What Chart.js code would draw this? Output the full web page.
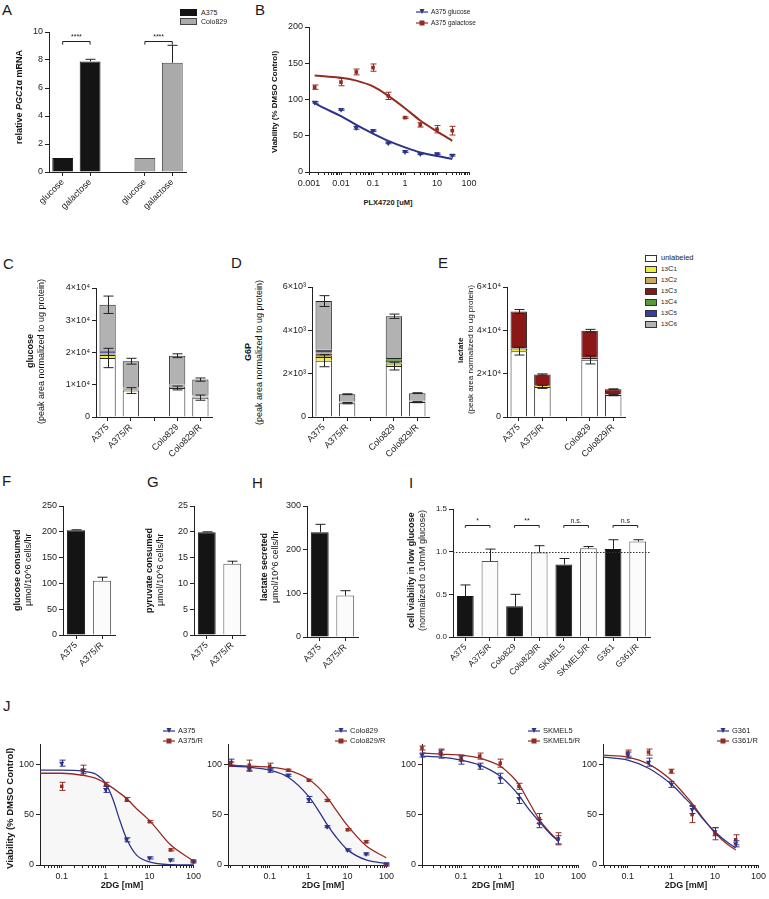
<!DOCTYPE html>
<html>
<head>
<meta charset="utf-8">
<script src="https://cdn.jsdelivr.net/npm/chart.js@4.4.1/dist/chart.umd.min.js"></script>
<style>
html, body { margin: 0; padding: 0; background: #fff; }
#fig { position: relative; width: 769px; height: 899px; overflow: hidden; font-family: "Liberation Sans", Arial, sans-serif; color: #1a1a1a; }
#fig canvas { position: absolute; }
.lbl { position: absolute; font-size: 15px; line-height: 15px; }
.yt { position: absolute; writing-mode: vertical-rl; transform: rotate(180deg); white-space: nowrap; text-align: center; color: #111; }
.xt { position: absolute; transform: translate(-50%, -50%); white-space: nowrap; font-weight: bold; }
.lg { position: absolute; white-space: nowrap; display: flex; align-items: center; line-height: 1; color: #222; }
.sw { display: inline-block; box-sizing: border-box; border: 1px solid #333; margin-right: 4px; }
</style>
</head>
<body>
<div id="fig"></div>
<script>
Chart.defaults.font.family = '"Liberation Sans", Arial, sans-serif';
Chart.defaults.font.size = 9;
Chart.defaults.color = '#222';

const AXIS = '#222';
const BLUE = '#2c3388';
const RED = '#952c23';
const BLACK = '#141414';
const WHITE = '#fbfbfb';
const ISO_COLORS = ['#ffffff', '#eeee3a', '#c8a862', '#8c1717', '#5a9a36', '#3a3c9c', '#b2b2b2'];

// ---- A: PGC1a mRNA
const aLabels = ['glucose', 'galactose', '', 'glucose', 'galactose'];
const aA375 = [1.0, 7.9, null, null, null];
const aColo829 = [null, null, null, 1.0, 7.8];
const aA375Err = [null, 0.15, null, null, null];
const aColo829Err = [null, null, null, null, 1.25];

// ---- B: PLX4720 dose response
const bConc = [0.0015, 0.01, 0.03, 0.1, 0.3, 1, 3, 10, 30];
const bGlucose = [96, 86, 61, 57, 40, 28, 25, 25, 23];
const bGlucoseErr = [1, 1, 2, 1, 1, 1, 1, 1, 1];
const bGalactose = [117, 124, 138, 144, 105, 75, 65, 59, 57];
const bGalactoseErr = [3, 5, 4, 5, 5, 1, 3, 5, 6];
const bFitConc = [0.0015, 0.003, 0.01, 0.03, 0.1, 0.3, 1, 3, 10, 30];
const bGlucoseFit = [95, 88, 77, 65, 53, 43, 34, 27, 22, 18];
const bGalactoseFit = [133, 132, 130, 126, 118, 105, 88, 71, 56, 43];

// ---- C/D/E: isotopologues
const isoLabels = ['A375', 'A375/R', '', 'Colo829', 'Colo829/R'];
const isoNames = ['unlabeled', '<sup>13</sup>C<sub>1</sub>', '<sup>13</sup>C<sub>2</sub>', '<sup>13</sup>C<sub>3</sub>',
  '<sup>13</sup>C<sub>4</sub>', '<sup>13</sup>C<sub>5</sub>', '<sup>13</sup>C<sub>6</sub>'];

const cUnlab = [18300, 8200, null, 9000, 6000];
const cC1 = [900, 300, null, 300, 250];
const cC2 = [150, 150, null, 150, 100];
const cC3 = [150, 150, null, 150, 100];
const cC4 = [200, 150, null, 150, 100];
const cC5 = [700, 200, null, 250, 150];
const cC6 = [14400, 8150, null, 9000, 4900];
const cUnlabErr = [3000, 900, null, 600, 800];
const cTopErr = [2700, 900, null, 600, 500];

const dUnlab = [2600, 640, null, 2350, 690];
const dC1 = [170, 20, null, 120, 20];
const dC2 = [80, 10, null, 60, 10];
const dC3 = [80, 10, null, 60, 10];
const dC4 = [60, 10, null, 50, 10];
const dC5 = [110, 10, null, 80, 10];
const dC6 = [2250, 350, null, 1930, 350];
const dUnlabErr = [280, 30, null, 180, 30];
const dTopErr = [250, 20, null, 100, 20];

const eUnlab = [30400, 13900, null, 26400, 10100];
const eC1 = [1200, 700, null, 800, 300];
const eC2 = [300, 200, null, 200, 100];
const eC3 = [16800, 4800, null, 12450, 2300];
const eC4 = [null, null, null, null, null];
const eC5 = [null, null, null, null, null];
const eC6 = [null, null, null, null, null];
const eUnlabErr = [1800, 700, null, 1900, 300];
const eTopErr = [900, 300, null, 600, 200];

// ---- F/G/H: consumption / secretion
const fghLabels = ['A375', 'A375/R'];
const fGlucose = [203, 105];
const fGlucoseErr = [1, 7];
const gPyruvate = [19.9, 13.8];
const gPyruvateErr = [0.1, 0.5];
const hLactate = [240, 95];
const hLactateErr = [18, 11];

// ---- I: low glucose viability
const iLabels = ['A375', 'A375/R', 'Colo829', 'Colo829/R', 'SKMEL5', 'SKMEL5/R', 'G361', 'G361/R'];
const iValues = [0.48, 0.89, 0.36, 0.99, 0.85, 1.04, 1.03, 1.12];
const iErr = [0.13, 0.14, 0.14, 0.08, 0.07, 0.02, 0.11, 0.02];
const iSigText = ['*', '**', 'n.s.', 'n.s'];

// ---- J: 2DG dose response
const j1Conc = [0.1, 0.3, 1, 3, 10, 30, 100];
const j1A375 = [101, 93, 75, 25, 7, 5, 3];
const j1A375Err = [3, 2, 3, 2, 1, 1, 1];
const j1A375R = [78, 94, 80, 65, 43, 15, 4];
const j1A375RErr = [4, 5, 2, 2, 1, 1, 1];
const j1FitConc = [0.032, 0.1, 0.3, 0.6, 1, 1.5, 2, 3, 5, 10, 30, 100];
const j1A375Fit = [94, 94, 93, 90, 81, 64, 47, 26, 10, 3, 0.3, 0];
const j1A375RFit = [91, 91, 89, 86, 81, 76, 72, 66, 56, 44, 20, 4];

const j2Conc = [0.01, 0.03, 0.1, 0.3, 1, 3, 10, 30, 100];
const j2Colo829 = [102, 95, 94, 89, 65, 38, 15, 11, 1];
const j2Colo829Err = [3, 2, 2, 1, 3, 1, 1, 1, 1];
const j2Colo829R = [100, 99, 98, 94, 84, 64, 35, 23, 0];
const j2Colo829RErr = [2, 5, 3, 1, 1, 1, 1, 1, 1];
const j2FitConc = [0.0085, 0.03, 0.1, 0.3, 1, 2, 3, 5, 10, 30, 100];
const j2Colo829Fit = [98, 97, 94, 87, 68, 51, 40, 28, 15, 5, 1.5];
const j2Colo829RFit = [99, 98, 97, 94, 85, 75, 67, 55, 39, 19, 7];

const j3Conc = [0.01, 0.03, 0.1, 0.3, 1, 3, 10, 30];
const j3Skmel5 = [109, 110, 104, 98, 86, 66, 41, 25];
const j3Skmel5Err = [2, 4, 4, 3, 5, 5, 4, 4];
const j3Skmel5R = [116, 112, 106, 108, 101, 78, 46, 26];
const j3Skmel5RErr = [2, 3, 3, 3, 4, 3, 5, 6];
const j3FitConc = [0.01, 0.03, 0.1, 0.3, 1, 2, 3, 5, 10, 20, 30];
const j3Skmel5Fit = [108, 107, 104, 99, 88, 77, 69, 57, 43, 30, 24];
const j3Skmel5RFit = [111, 110, 109, 106, 98, 88, 80, 65, 45, 31, 24];

const j4Conc = [0.1, 0.3, 1, 3, 10, 30];
const j4G361 = [109, 102, 80, 55, 33, 21];
const j4G361Err = [3, 4, 3, 4, 4, 3];
const j4G361R = [111, 112, 93, 50, 31, 25];
const j4G361RErr = [3, 3, 2, 8, 6, 5];
const j4FitConc = [0.027, 0.1, 0.3, 1, 2, 3, 5, 10, 20, 30];
const j4G361Fit = [107, 104, 96, 80, 67, 59, 47, 33, 22, 17];
const j4G361RFit = [109, 107, 100, 84, 70, 61, 48, 32, 20, 15];

// ---------------------------------------------------------------
const fig = document.getElementById('fig');

function addDiv(cls, css, html) {
    const d = document.createElement('div');
    d.className = cls;
    d.style.cssText = css;
    d.innerHTML = html;
    fig.appendChild(d);
    return d;
}

// error bars from dataset.err (magnitudes), drawn at each element's top
const errorBars = {
    id: 'errorBars',
    afterDatasetsDraw(chart) {
        const { ctx } = chart;
        const y = chart.scales.y;
        chart.data.datasets.forEach((ds, i) => {
            if (!ds.err) return;
            const meta = chart.getDatasetMeta(i);
            ctx.save();
            ctx.strokeStyle = ds.errColor || '#222';
            ctx.lineWidth = 1;
            meta.data.forEach((el, j) => {
                const e = ds.err[j];
                if (e == null || el.skip || ds.data[j] == null) return;
                const v = y.getValueForPixel(el.y);
                const top = y.getPixelForValue(v + e);
                const bot = ds.errMode === 'up' ? el.y : y.getPixelForValue(v - e);
                const cap = ds.errCap || 4;
                const px = Math.round(el.x) + 0.5;
                ctx.beginPath();
                ctx.moveTo(px, top);
                ctx.lineTo(px, bot);
                ctx.moveTo(px - cap, top);
                ctx.lineTo(px + cap, top);
                if (ds.errMode !== 'up') {
                    ctx.moveTo(px - cap, bot);
                    ctx.lineTo(px + cap, bot);
                }
                ctx.stroke();
            });
            ctx.restore();
        });
    },
};
Chart.register(errorBars);

function bracketPlugin(pairs, level, leg, texts, fontSize) {
    return {
        id: 'brackets',
        afterDatasetsDraw(chart) {
            const { ctx, scales: { x, y } } = chart;
            ctx.save();
            ctx.strokeStyle = '#222';
            ctx.fillStyle = '#222';
            ctx.lineWidth = 1;
            ctx.font = fontSize + 'px "Liberation Sans", Arial, sans-serif';
            ctx.textAlign = 'center';
            ctx.textBaseline = 'bottom';
            pairs.forEach(([a, b], k) => {
                const x1 = x.getPixelForValue(a), x2 = x.getPixelForValue(b);
                const yt = Math.round(y.getPixelForValue(level)) + 0.5;
                const yl = y.getPixelForValue(leg);
                ctx.beginPath();
                ctx.moveTo(x1, yl);
                ctx.lineTo(x1, yt);
                ctx.lineTo(x2, yt);
                ctx.lineTo(x2, yl);
                ctx.stroke();
                ctx.fillText(texts[k], (x1 + x2) / 2, yt - 1);
            });
            ctx.restore();
        },
    };
}

function refLinePlugin(value) {
    return {
        id: 'refLine',
        afterDatasetsDraw(chart) {
            const { ctx, chartArea, scales: { y } } = chart;
            const py = Math.round(y.getPixelForValue(value)) + 0.5;
            ctx.save();
            ctx.strokeStyle = '#333';
            ctx.lineWidth = 1;
            ctx.setLineDash([1.5, 1.5]);
            ctx.beginPath();
            ctx.moveTo(chartArea.left, py);
            ctx.lineTo(chartArea.right, py);
            ctx.stroke();
            ctx.restore();
        },
    };
}

function logTicks(min, max) {
    const out = [];
    for (let k = Math.floor(Math.log10(min)); k <= Math.ceil(Math.log10(max)); k++) {
        for (let m = 1; m < 10; m++) {
            const v = +(m * Math.pow(10, k)).toPrecision(6);
            if (v >= min * 0.999 && v <= max * 1.001) out.push({ value: v, major: m === 1 });
        }
    }
    return out;
}
const isPow10 = v => Math.abs(Math.log10(v) - Math.round(Math.log10(v))) < 1e-6;

function yLin(min, max, step, fmt, size, list) {
    const s = {
        type: 'linear', min, max,
        border: { color: AXIS },
        grid: { drawOnChartArea: false, tickLength: 4, tickColor: AXIS },
        ticks: { stepSize: step, padding: 2, font: { size: size || 9 }, callback: fmt || (v => v) },
    };
    if (list) s.afterBuildTicks = sc => { sc.ticks = list.map(v => ({ value: v })); };
    return s;
}

function xCat(hideIdx, size) {
    return {
        type: 'category', offset: true,
        border: { color: AXIS },
        grid: {
            drawOnChartArea: false, offset: false, tickLength: 4,
            tickColor: c => (c.index === hideIdx ? 'rgba(0,0,0,0)' : AXIS),
        },
        ticks: { minRotation: 45, maxRotation: 45, padding: 1, autoSkip: false, font: { size: size || 9 } },
    };
}

function xLog(min, max, minLabel) {
    return {
        type: 'logarithmic', min, max,
        border: { color: AXIS },
        grid: { drawOnChartArea: false, tickLength: 3, tickColor: AXIS },
        afterBuildTicks: s => { s.ticks = logTicks(min, max); },
        ticks: {
            autoSkip: false, maxRotation: 0, padding: 3,
            callback: v => (isPow10(v) && v >= (minLabel || 0) ? String(v) : ''),
        },
    };
}

// box = plot area in page px, pad = room for the axes around it
function makeChart(box, pad, config) {
    const c = document.createElement('canvas');
    const w = box.r - box.l + pad.l + pad.r;
    const h = box.b - box.t + pad.t + pad.b;
    c.width = w;
    c.height = h;
    c.style.cssText = `left:${box.l - pad.l}px;top:${box.t - pad.t}px;width:${w}px;height:${h}px`;
    fig.appendChild(c);
    const o = config.options;
    o.responsive = false;
    o.animation = false;
    o.events = [];
    o.layout = { padding: { top: pad.t, right: pad.r, left: 0, bottom: 0 } };
    o.scales.y.afterFit = s => { s.width = pad.l; };
    o.scales.x.afterFit = s => { s.height = pad.b; };
    o.plugins = Object.assign({ legend: { display: false }, tooltip: { enabled: false } }, o.plugins || {});
    return new Chart(c, config);
}

function pts(xs, ys) {
    return xs.map((x, i) => ({ x, y: ys[i] }));
}
function pointSet(xs, ys, err, color, style, r) {
    return {
        data: pts(xs, ys), showLine: false, clip: false,
        pointStyle: style, rotation: style === 'triangle' ? 180 : 0, pointRadius: r || 3,
        backgroundColor: color, borderColor: color, borderWidth: 0,
        err, errMode: 'both', errColor: color, errCap: 3,
    };
}
function curveSet(xs, ys, color, width, fill) {
    return {
        data: pts(xs, ys), showLine: true, pointRadius: 0, borderColor: color, borderWidth: width,
        cubicInterpolationMode: 'monotone', fill: fill ? 'origin' : false, backgroundColor: 'rgba(0,0,0,0.03)',
    };
}

function isoChart(box, series, unlErr, topErr, topIdx, yMax, yStep, exp) {
    makeChart(box, { l: 45, t: 8, r: 4, b: 52 }, {
        type: 'bar',
        data: {
            labels: isoLabels,
            datasets: series.map((s, i) => ({
                data: s,
                backgroundColor: ISO_COLORS[i],
                borderColor: '#262626',
                borderWidth: 1,
                categoryPercentage: 1,
                barPercentage: 0.7,
                err: i === 0 ? unlErr : (i === topIdx ? topErr : null),
                errMode: 'both',
                errCap: 5,
            })),
        },
        options: {
            scales: {
                x: Object.assign(xCat(-1), { stacked: true }),
                y: Object.assign(yLin(0, yMax, yStep, v => (v === 0 ? '0' : (v / Math.pow(10, exp)) + '×10' + (exp === 4 ? '⁴' : '³'))), { stacked: true }),
            },
        },
    });
}

function simpleBars(box, labels, values, err, colors, borders, yAxis, size, plugins, pct) {
    makeChart(box, { l: 40, t: 8, r: 4, b: 50 }, {
        type: 'bar',
        data: {
            labels,
            datasets: [{
                data: values,
                backgroundColor: colors,
                borderColor: borders,
                borderWidth: 1,
                borderSkipped: 'bottom',
                categoryPercentage: 1,
                barPercentage: pct || 0.7,
                err, errMode: 'up', errCap: 5,
            }],
        },
        options: { scales: { x: xCat(-1, size), y: yAxis } },
        plugins: plugins || [],
    });
}

// ---- A
makeChart({ l: 49, t: 32, r: 186, b: 172 }, { l: 40, t: 8, r: 4, b: 50 }, {
    type: 'bar',
    data: {
        labels: aLabels,
        datasets: [
            { data: aA375, backgroundColor: BLACK, borderColor: BLACK, borderWidth: 1, grouped: false,
              categoryPercentage: 1, barPercentage: 0.76, err: aA375Err, errMode: 'up', errCap: 5 },
            { data: aColo829, backgroundColor: '#aaaaaa', borderColor: '#444', borderWidth: 1, grouped: false,
              categoryPercentage: 1, barPercentage: 0.76, err: aColo829Err, errMode: 'up', errCap: 5 },
        ],
    },
    options: { scales: { x: xCat(2), y: yLin(0, 10, 2) } },
    plugins: [bracketPlugin([[0, 1], [3, 4]], 9.36, 9.1, ['****', '****'], 7)],
});

// ---- B
makeChart({ l: 309, t: 27, r: 469, b: 172 }, { l: 30, t: 8, r: 12, b: 22 }, {
    type: 'scatter',
    data: {
        datasets: [
            pointSet(bConc, bGalactose, bGalactoseErr, RED, 'rect', 2.6),
            pointSet(bConc, bGlucose, bGlucoseErr, BLUE, 'triangle', 3.2),
            curveSet(bFitConc, bGlucoseFit, BLUE, 2),
            curveSet(bFitConc, bGalactoseFit, RED, 2),
        ],
    },
    options: { scales: { x: xLog(0.001, 100), y: yLin(0, 200, 50) } },
});

// ---- C, D, E
isoChart({ l: 96, t: 288, r: 212, b: 417 }, [cUnlab, cC1, cC2, cC3, cC4, cC5, cC6], cUnlabErr, cTopErr, 6, 40000, 10000, 4);
isoChart({ l: 312, t: 287, r: 429, b: 417 }, [dUnlab, dC1, dC2, dC3, dC4, dC5, dC6], dUnlabErr, dTopErr, 6, 6000, 2000, 3);
isoChart({ l: 507, t: 287, r: 625, b: 417 }, [eUnlab, eC1, eC2, eC3, eC4, eC5, eC6], eUnlabErr, eTopErr, 3, 60000, 20000, 4);

// ---- F, G, H
simpleBars({ l: 63, t: 506, r: 115, b: 635 }, fghLabels, fGlucose, fGlucoseErr, [BLACK, WHITE], [BLACK, '#555'], yLin(0, 250, 50));
simpleBars({ l: 194, t: 506, r: 245, b: 635 }, fghLabels, gPyruvate, gPyruvateErr, [BLACK, WHITE], [BLACK, '#555'], yLin(0, 25, 5));
simpleBars({ l: 307, t: 506, r: 358, b: 637 }, fghLabels, hLactate, hLactateErr, [BLACK, WHITE], [BLACK, '#555'], yLin(0, 300, 100));

// ---- I
simpleBars({ l: 453, t: 509, r: 650, b: 637 }, iLabels, iValues, iErr,
    iLabels.map((_, k) => (k % 2 ? WHITE : BLACK)), iLabels.map((_, k) => (k % 2 ? '#555' : BLACK)),
    yLin(0, 1.5, 0.5, v => v.toFixed(1), 8), 8.5,
    [refLinePlugin(1.0), bracketPlugin([[0, 1], [2, 3], [4, 5], [6, 7]], 1.31, 1.28, iSigText, 7)], 0.68);

// ---- J
function jChart(l, r, xMin, sets) {
    makeChart({ l, t: 744, r, b: 865 }, { l: 28, t: 8, r: 10, b: 22 }, {
        type: 'scatter',
        data: { datasets: sets },
        options: { scales: { x: xLog(xMin, 100, 0.05), y: yLin(0, 120, 50, null, 9, [0, 50, 100]) } },
    });
}
jChart(40, 194, 0.032, [
    pointSet(j1Conc, j1A375R, j1A375RErr, RED, 'rect', 2.5),
    pointSet(j1Conc, j1A375, j1A375Err, BLUE, 'triangle', 3),
    curveSet(j1FitConc, j1A375Fit, BLUE, 1.3),
    curveSet(j1FitConc, j1A375RFit, RED, 1.3, true),
]);
jChart(228, 387, 0.0085, [
    pointSet(j2Conc, j2Colo829R, j2Colo829RErr, RED, 'rect', 2.5),
    pointSet(j2Conc, j2Colo829, j2Colo829Err, BLUE, 'triangle', 3),
    curveSet(j2FitConc, j2Colo829Fit, BLUE, 1.3),
    curveSet(j2FitConc, j2Colo829RFit, RED, 1.3, true),
]);
jChart(422, 579, 0.01, [
    pointSet(j3Conc, j3Skmel5R, j3Skmel5RErr, RED, 'rect', 2.5),
    pointSet(j3Conc, j3Skmel5, j3Skmel5Err, BLUE, 'triangle', 3),
    curveSet(j3FitConc, j3Skmel5Fit, BLUE, 1.3),
    curveSet(j3FitConc, j3Skmel5RFit, RED, 1.3),
]);
jChart(603, 759, 0.027, [
    pointSet(j4Conc, j4G361R, j4G361RErr, RED, 'rect', 2.5),
    pointSet(j4Conc, j4G361, j4G361Err, BLUE, 'triangle', 3),
    curveSet(j4FitConc, j4G361Fit, BLUE, 1.3),
    curveSet(j4FitConc, j4G361RFit, RED, 1.3),
]);

// ---- panel letters
[['A', 2, 2], ['B', 255, 2], ['C', 3, 256], ['D', 231, 255], ['E', 438, 255], ['F', 2, 473],
 ['G', 147, 474], ['H', 252, 475], ['I', 409, 475], ['J', 3, 698]].forEach(([t, x, y]) =>
    addDiv('lbl', `left:${x}px;top:${y}px`, t));

// ---- axis titles (vertical text in a fixed, even-sized box so it stays on whole pixels)
function yTitle(cx, cy, size, lines, html) {
    const lh = Math.round(size * 1.2);
    const w = lh * lines + ((lh * lines) % 2);
    const h = 220;
    addDiv('yt', `left:${cx - w / 2}px;top:${cy - h / 2}px;width:${w}px;height:${h}px;font-size:${size}px;line-height:${lh}px`, html);
}
yTitle(20, 97, 9, 1, '<b>relative <i>PGC1</i>α mRNA</b>');
yTitle(275, 102, 8, 1, '<b>Viability (% DMSO Control)</b>');
yTitle(36, 351, 9, 2, '<b>glucose</b><br>(peak area normalized to ug protein)');
yTitle(254, 352, 9, 2, '<b>G6P</b><br>(peak area normalized to ug protein)');
yTitle(466, 350, 8, 2, '<b>lactate</b><br>(peak area normalized to ug protein)');
yTitle(23, 570, 9, 2, '<b>glucose consumed</b><br>μmol/10^6 cells/hr');
yTitle(155, 570, 9, 2, '<b>pyruvate consumed</b><br>μmol/10^6 cells/hr');
yTitle(270, 567, 9, 2, '<b>lactate secreted</b><br>μmol/10^6 cells/hr');
yTitle(417, 570, 9, 2, '<b>cell viability in low glucose</b><br>(normalized to 10mM glucose)');
yTitle(10, 808, 9.5, 1, '<b>Viability (% DMSO Control)</b>');

addDiv('xt', 'left:388px;top:202px;font-size:7.5px', 'PLX4720 [uM]');
[[122, 885], [323, 885], [493, 885], [686, 885]].forEach(([x, y]) =>
    addDiv('xt', `left:${x}px;top:${y}px;font-size:9px`, '2DG [mM]'));

// ---- legends
function boxLegend(x, ys, size, items) {
    items.forEach((it, k) => {
        addDiv('lg', `left:${x}px;top:${ys[k] - 4}px;font-size:${size}px;height:8px`,
            `<span class="sw" style="width:${it.w}px;height:7px;background:${it.color};border-color:${it.border || '#333'}"></span>${it.text}`);
    });
}
boxLegend(180, [12, 21], 7, [
    { text: 'A375', color: BLACK, border: BLACK, w: 17 },
    { text: 'Colo829', color: '#aaaaaa', border: '#444', w: 17 },
]);
boxLegend(645, [258, 269, 280, 291, 302, 313, 324], 7.5,
    isoNames.map((t, k) => ({ text: t, color: ISO_COLORS[k], w: 12 })));

function lineLegend(x, ys, size, items) {
    items.forEach((it, k) => {
        const mk = it.tri
            ? `<polygon points="3.5,1 8.5,1 6,6" fill="${it.color}"/>`
            : `<rect x="3.5" y="1.5" width="5" height="5" fill="${it.color}"/>`;
        addDiv('lg', `left:${x}px;top:${ys[k] - 4}px;font-size:${size}px;height:8px`,
            `<svg width="12" height="8" style="margin-right:3px"><line x1="0" y1="4" x2="12" y2="4" stroke="${it.color}" stroke-width="1.2"/>${mk}</svg>${it.text}`);
    });
}
lineLegend(416, [12, 23], 6.5, [{ text: 'A375 glucose', color: BLUE, tri: true }, { text: 'A375 galactose', color: RED }]);
lineLegend(163, [730.5, 741], 7.5, [{ text: 'A375', color: BLUE, tri: true }, { text: 'A375/R', color: RED }]);
lineLegend(335, [730.5, 741], 7.5, [{ text: 'Colo829', color: BLUE, tri: true }, { text: 'Colo829/R', color: RED }]);
lineLegend(528, [730.5, 741], 7.5, [{ text: 'SKMEL5', color: BLUE, tri: true }, { text: 'SKMEL5/R', color: RED }]);
lineLegend(717, [730.5, 741], 7.5, [{ text: 'G361', color: BLUE, tri: true }, { text: 'G361/R', color: RED }]);
</script>
</body>
</html>
